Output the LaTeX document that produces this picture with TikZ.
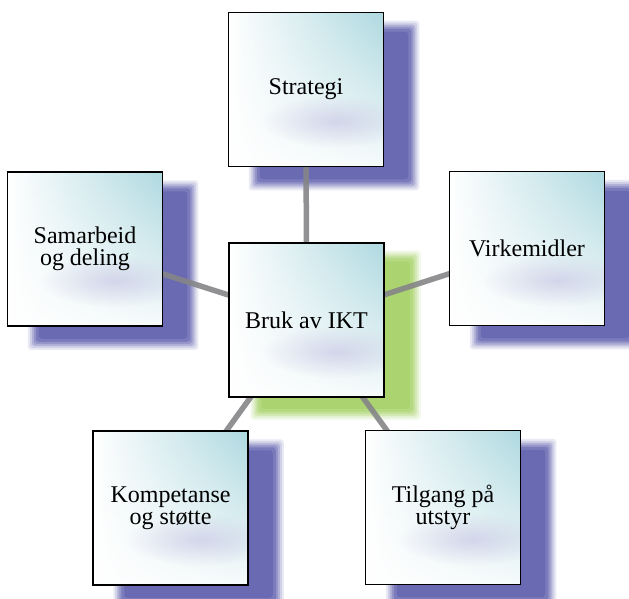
\documentclass[tikz,border=0pt]{standalone}
\usepackage{fontspec}
\newfontfamily\boxfont{Liberation Serif}
\usetikzlibrary{calc,fadings}
\definecolor{boxteal}{HTML}{AED9E0}
\definecolor{lav}{HTML}{C4C1E2}
\definecolor{shblue}{HTML}{6A6AB3}
\definecolor{shgreen}{HTML}{ABD470}
\definecolor{linkgray}{HTML}{858588}
\tikzfading[name=fadebot, top color=transparent!100, middle color=transparent!85, bottom color=transparent!10]
\tikzfading[name=softblob, inner color=transparent!20, outer color=transparent!100]
\pgfdeclarelayer{shadowlayer}
\pgfdeclarelayer{linklayer}
\pgfsetlayers{shadowlayer,linklayer,main}
\tikzset{
  boxnode/.style={draw=black, line width=1.5pt, minimum width=155pt, minimum height=154pt,
    inner sep=0pt, align=center, font=\boxfont\fontsize{24}{22}\selectfont,
    path picture={
      \shade[left color=white, middle color=boxteal!55!white, right color=boxteal]
        (path picture bounding box.south west) rectangle (path picture bounding box.north east);
      \fill[white, path fading=fadebot]
        (path picture bounding box.south west) rectangle (path picture bounding box.north east);
      \fill[lav, path fading=softblob, fill opacity=0.75]
        ($(path picture bounding box.center)+(30,32)$) ellipse [x radius=75, y radius=26];
    }},
  link/.style={draw=linkgray, line width=5.5pt, draw opacity=0.9},
}
\newcommand{\softshadow}[4]{%
  \foreach \e/\o in {7/0.15,5/0.2,3/0.3,1/0.4,-1/0.6,-4/1}{%
    \fill[#2, fill opacity=\o, rounded corners=3pt]
      ($(#1.north west)+(#3-\e,#4-\e)$) rectangle ($(#1.south east)+(#3+\e,#4+\e)$);
  }%
}
\begin{document}
\begin{tikzpicture}[x=1pt, y=-1pt]
\useasboundingbox (0,0) rectangle (629,599);

\node[boxnode] (strat) at (306,89.5) {Strategi};
\node[boxnode] (sam)   at (85,249)   {Samarbeid\\og deling};
\node[boxnode] (virk)  at (527,248.5) {Virkemidler};
\node[boxnode] (bruk)  at (306.5,320) {Bruk av IKT};
\node[boxnode] (komp)  at (170.5,508) {Kompetanse\\og støtte};
\node[boxnode] (tilg)  at (443,507.5) {Tilgang på\\utstyr};

\begin{pgfonlayer}{shadowlayer}
  \softshadow{strat}{shblue}{28}{16}
  \softshadow{sam}{shblue}{28}{16}
  \softshadow{virk}{shblue}{28}{16}
  \softshadow{komp}{shblue}{28}{16}
  \softshadow{tilg}{shblue}{28}{16}
  \softshadow{bruk}{shgreen}{29}{15}
\end{pgfonlayer}

\begin{pgfonlayer}{linklayer}
  \foreach \n in {strat,sam,virk,komp,tilg}
    \draw[link] (bruk.center) -- (\n.center);
\end{pgfonlayer}
\end{tikzpicture}
\end{document}
